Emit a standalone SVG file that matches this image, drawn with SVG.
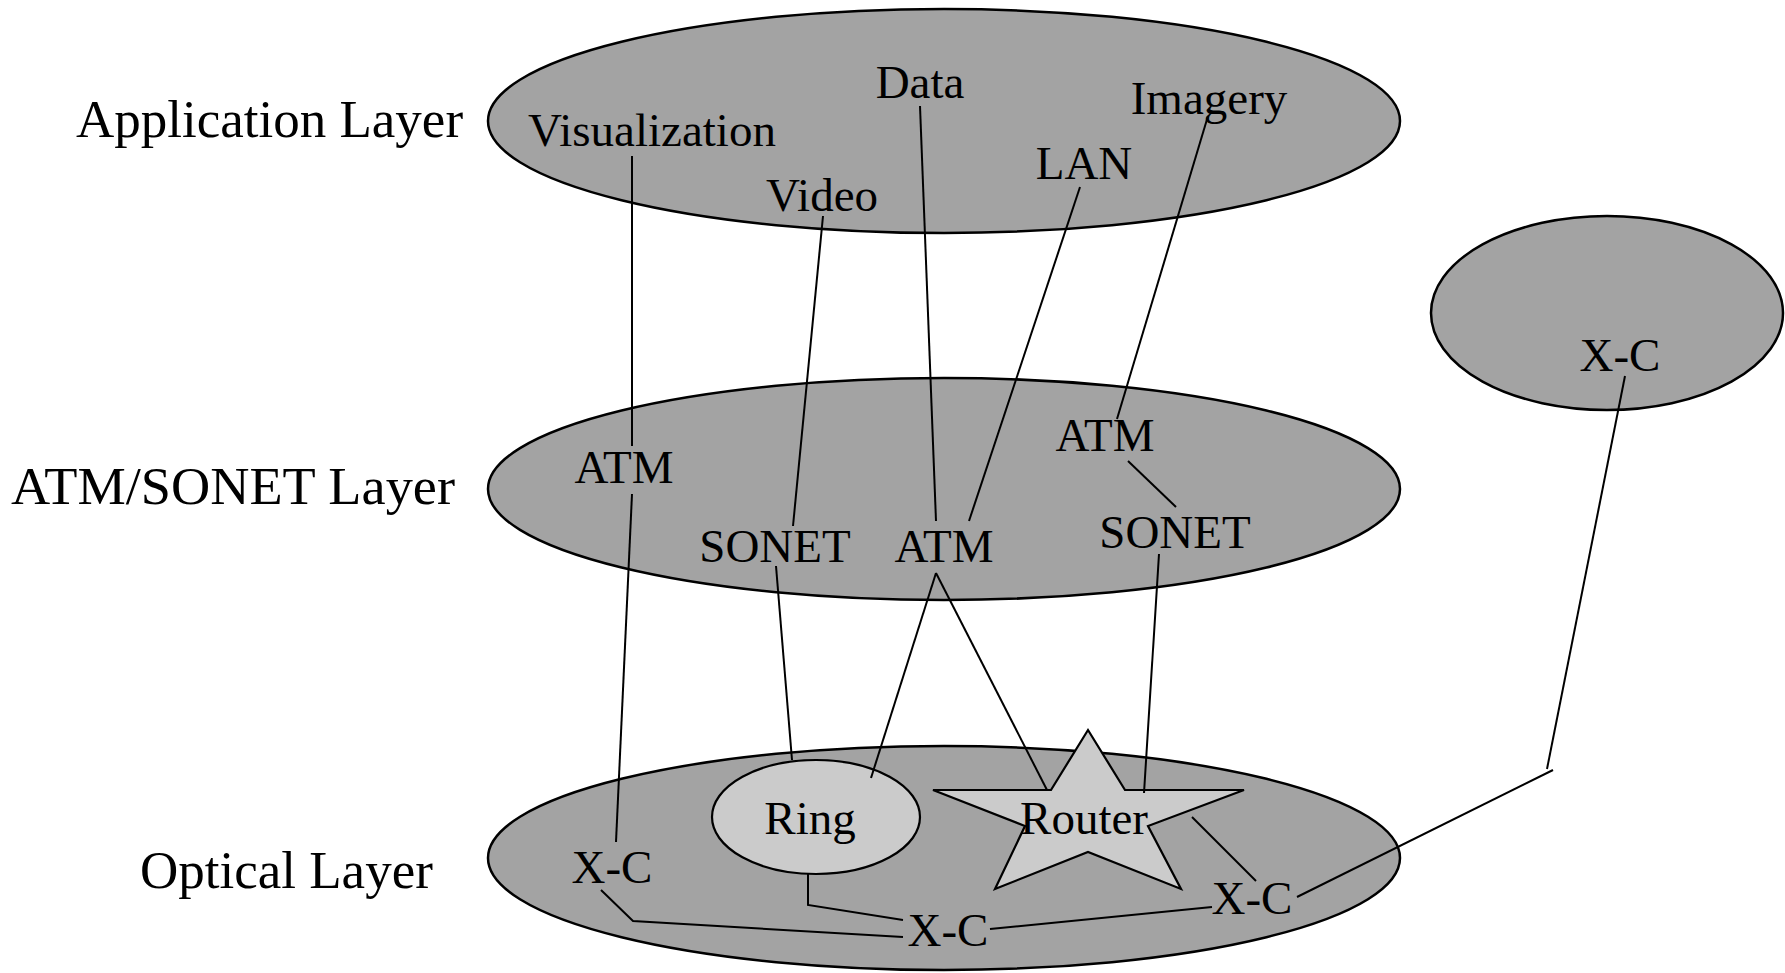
<svg xmlns="http://www.w3.org/2000/svg" width="1785" height="973" viewBox="0 0 1785 973">
<style>
.layer{fill:#a3a3a3;stroke:#000;stroke-width:2.5}
.light{fill:#cbcbcb;stroke:#000;stroke-width:2.2}
.lbl{font-family:"Liberation Serif","Times New Roman",serif;font-size:47px;fill:#000;text-anchor:middle}
.ll{font-family:"Liberation Serif","Times New Roman",serif;font-size:53px;fill:#000}
.c{fill:none;stroke:#000;stroke-width:2}
</style>
<rect width="1785" height="973" fill="#fff"/>
<g id="layer-labels">
<text class="ll" x="76" y="137">Application Layer</text>
<text class="ll" x="11" y="504" textLength="444" lengthAdjust="spacingAndGlyphs">ATM/SONET Layer</text>
<text class="ll" x="140" y="888">Optical Layer</text>
</g>
<g id="application-layer"><ellipse class="layer" cx="944" cy="121" rx="456" ry="112"/></g>
<g id="atm-sonet-layer"><ellipse class="layer" cx="944" cy="489" rx="456" ry="111"/></g>
<g id="optical-layer"><ellipse class="layer" cx="944" cy="858" rx="456" ry="112"/></g>
<g id="remote-layer"><ellipse class="layer" cx="1607" cy="313" rx="176" ry="97"/></g>
<g id="ring"><ellipse class="light" cx="816" cy="817" rx="104" ry="57"/><text class="lbl" x="810" y="834">Ring</text></g>
<g id="router"><polygon class="light" points="1088,730 1125,790 1244,790 1148,826 1181,889 1088,852 995,889 1025,826 933,790 1051,790"/><text class="lbl" x="1084" y="834">Router</text></g>
<g id="connectors">
<line class="c" x1="632" y1="156" x2="632" y2="446"/>
<line class="c" x1="823" y1="216" x2="793" y2="526"/>
<line class="c" x1="920" y1="106" x2="936" y2="521"/>
<line class="c" x1="1080" y1="187" x2="969" y2="521"/>
<line class="c" x1="1208" y1="116" x2="1117" y2="419"/>
<line class="c" x1="1128" y1="461" x2="1176" y2="507"/>
<line class="c" x1="632" y1="494" x2="616" y2="842"/>
<line class="c" x1="776" y1="566" x2="792" y2="760"/>
<line class="c" x1="936" y1="573" x2="871" y2="778"/>
<line class="c" x1="936" y1="573" x2="1047" y2="790"/>
<line class="c" x1="1159" y1="554" x2="1144" y2="793"/>
<line class="c" x1="1625" y1="376" x2="1547" y2="769"/>
<line class="c" x1="1553" y1="770" x2="1297" y2="897"/>
<line class="c" x1="1192" y1="817" x2="1256" y2="881"/>
<polyline class="c" points="601,890 633,921 903,937"/>
<polyline class="c" points="808,873 808,905 903,920"/>
<line class="c" x1="990" y1="929" x2="1212" y2="907"/>
</g>
<g id="app-nodes">
<text class="lbl" x="652" y="146">Visualization</text>
<text class="lbl" x="920" y="98">Data</text>
<text class="lbl" x="1209" y="114">Imagery</text>
<text class="lbl" x="1084" y="179">LAN</text>
<text class="lbl" x="822" y="211">Video</text>
</g>
<g id="atm-nodes">
<text class="lbl" x="624" y="483">ATM</text>
<text class="lbl" x="1105" y="451">ATM</text>
<text class="lbl" x="775" y="562">SONET</text>
<text class="lbl" x="944" y="562">ATM</text>
<text class="lbl" x="1175" y="548">SONET</text>
</g>
<g id="optical-nodes">
<text class="lbl" x="612" y="883">X-C</text>
<text class="lbl" x="948" y="946">X-C</text>
<text class="lbl" x="1252" y="914">X-C</text>
<text class="lbl" x="1620" y="371">X-C</text>
</g>
</svg>
